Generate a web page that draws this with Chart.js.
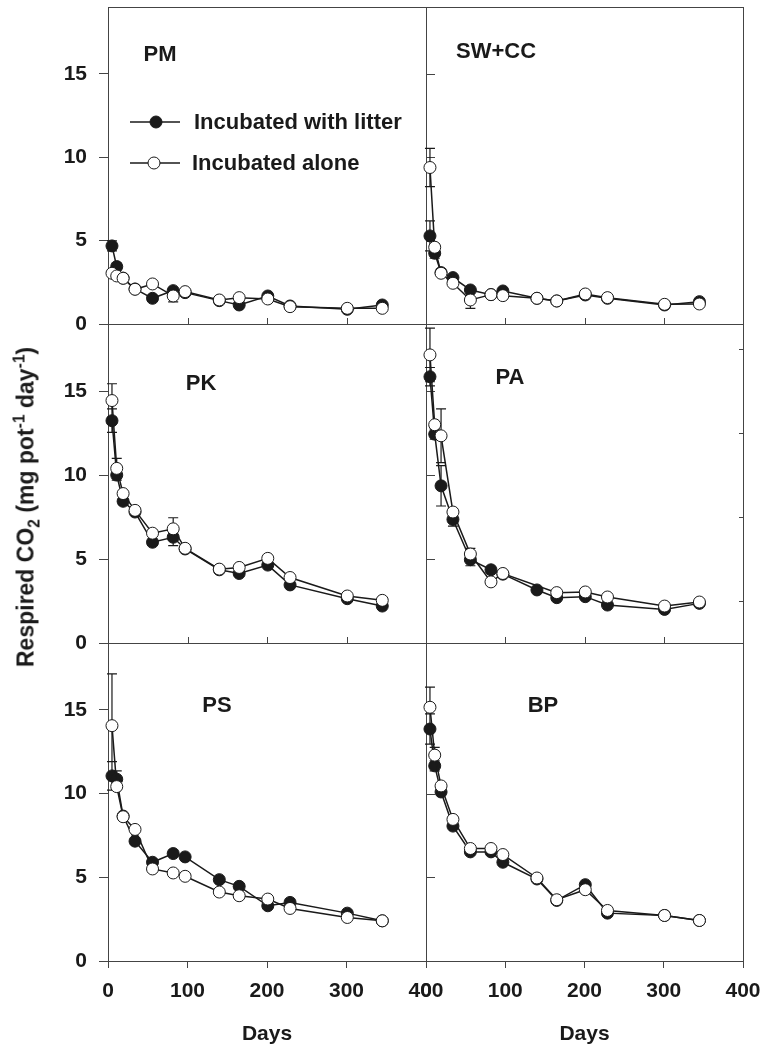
<!DOCTYPE html>
<html>
<head>
<meta charset="utf-8">
<script src="https://cdn.jsdelivr.net/npm/chart.js@4.4.0/dist/chart.umd.min.js"></script>
<style>
  body { margin: 0; background: #fff; }
  #page { position: relative; width: 773px; height: 1047px; overflow: hidden; font-family: 'Liberation Sans', Arial, sans-serif; }
  canvas { position: absolute; }
  #ylabel {
    position: absolute; left: 26px; top: 507px;
    transform: translate(-50%, -50%) rotate(-90deg);
    white-space: nowrap; font-weight: bold; font-size: 23px; color: #1a1a1a; line-height: 1;
  }
  #ylabel sub, #ylabel sup { font-size: 0.68em; line-height: 0; }
</style>
</head>
<body>
<div id="page">
  <canvas id="pm"></canvas>
  <canvas id="pk"></canvas>
  <canvas id="ps"></canvas>
  <canvas id="sw"></canvas>
  <canvas id="pa"></canvas>
  <canvas id="bp"></canvas>
  <div id="ylabel">Respired CO<sub>2</sub> (mg pot<sup>-1</sup> day<sup>-1</sup>)</div>
</div>
<script>
// sampling days (shared by all panels)
const days = [5, 11, 19, 34, 56, 82, 97, 140, 165, 201, 229, 301, 345];

// PM
const pmLitter = [4.68, 3.44, 2.75, 2.10, 1.54, 2.00, 1.88, 1.40, 1.14, 1.68, 1.08, 0.88, 1.14];
const pmAlone = [3.04, 2.88, 2.74, 2.08, 2.40, 1.68, 1.94, 1.44, 1.58, 1.50, 1.04, 0.94, 0.94];
const pmLitterErr = [0.3, 0.2, 0, 0, 0.15, 0.15, 0, 0, 0, 0.1, 0, 0, 0.1];
const pmAloneErr = [0.1, 0, 0, 0, 0, 0.35, 0, 0, 0, 0, 0, 0, 0];

// SW+CC
const swLitter = [5.28, 4.24, 3.08, 2.78, 2.04, 1.76, 1.98, 1.54, 1.38, 1.74, 1.54, 1.14, 1.34];
const swAlone = [9.38, 4.60, 3.04, 2.44, 1.44, 1.76, 1.70, 1.54, 1.38, 1.80, 1.58, 1.18, 1.20];
const swLitterErr = [0.9, 0.3, 0, 0.1, 0, 0, 0, 0, 0, 0, 0, 0, 0];
const swAloneErr = [1.15, 0.2, 0, 0, 0.5, 0, 0, 0, 0, 0, 0, 0, 0];

// PK
const pkLitter = [13.24, 10.0, 8.44, 7.8, 6.0, 6.3, 5.6, 4.36, 4.14, 4.64, 3.46, 2.64, 2.2];
const pkAlone = [14.44, 10.4, 8.9, 7.9, 6.54, 6.8, 5.64, 4.4, 4.5, 5.04, 3.9, 2.8, 2.54];
const pkLitterErr = [0.7, 0.3, 0.2, 0, 0, 0.5, 0, 0, 0, 0, 0, 0, 0.1];
const pkAloneErr = [1.0, 0.6, 0, 0, 0, 0.66, 0, 0, 0, 0, 0, 0, 0];

// PA
const paLitter = [15.86, 12.44, 9.36, 7.36, 4.96, 4.36, 4.10, 3.16, 2.70, 2.76, 2.26, 2.00, 2.36];
const paAlone = [17.16, 13.0, 12.34, 7.8, 5.3, 3.64, 4.14, null, 3.0, 3.04, 2.74, 2.2, 2.44];
const paLitterErr = [0.55, 0.3, 1.2, 0.4, 0.36, 0, 0, 0, 0, 0, 0, 0, 0];
const paAloneErr = [1.6, 0, 1.6, 0.2, 0.34, 0, 0, 0, 0, 0, 0, 0, 0];

// PS
const psLitter = [11.06, 10.86, 8.66, 7.16, 5.9, 6.42, 6.22, 4.86, 4.46, 3.3, 3.5, 2.86, 2.4];
const psAlone = [14.06, 10.42, 8.62, 7.86, 5.5, 5.26, 5.06, 4.12, 3.9, 3.7, 3.14, 2.6, 2.4];
const psLitterErr = [0.85, 0.5, 0.15, 0.15, 0, 0, 0, 0, 0.15, 0.15, 0, 0, 0];
const psAloneErr = [3.1, 0, 0, 0, 0, 0, 0, 0, 0, 0, 0, 0, 0];

// BP
const bpLitter = [13.86, 11.66, 10.1, 8.06, 6.52, 6.52, 5.9, 4.9, 3.62, 4.56, 2.86, 2.72, 2.42];
const bpAlone = [15.16, 12.3, 10.46, 8.46, 6.72, 6.72, 6.36, 4.96, 3.66, 4.26, 3.02, 2.72, 2.42];
const bpLitterErr = [0.9, 0.3, 0.15, 0, 0, 0, 0, 0, 0, 0, 0, 0, 0];
const bpAloneErr = [1.2, 0.46, 0, 0, 0, 0, 0, 0, 0, 0, 0, 0, 0];

const yTicks = [0, 5, 10, 15];
const xTicks = [0, 100, 200, 300, 400];
const innerXTicks = [100, 200, 300];
const paRightTicks = [2.5, 7.5, 12.5, 17.5];
const legendLabels = ['Incubated with litter', 'Incubated alone'];

const FONT = "'Liberation Sans', Arial, sans-serif";
const INK = '#1a1a1a';
const AXIS = '#444';

const cols = {
  left: { x: 0, w: 460, axisW: 108, padR: 34 },
  right: { x: 380, w: 393, axisW: 46, padR: 30 },
};
const rows = [
  { top: 7, bottom: 324 },
  { top: 324, bottom: 643 },
  { top: 643, bottom: 961 },
];

const panels = [
  { id: 'pm', name: 'PM', col: 'left', row: 0, litter: pmLitter, alone: pmAlone, litterErr: pmLitterErr, aloneErr: pmAloneErr, lx: 52, ly: 48, legend: true },
  { id: 'pk', name: 'PK', col: 'left', row: 1, litter: pkLitter, alone: pkAlone, litterErr: pkLitterErr, aloneErr: pkAloneErr, lx: 93, ly: 60 },
  { id: 'ps', name: 'PS', col: 'left', row: 2, litter: psLitter, alone: psAlone, litterErr: psLitterErr, aloneErr: psAloneErr, lx: 109, ly: 63 },
  { id: 'sw', name: 'SW+CC', col: 'right', row: 0, litter: swLitter, alone: swAlone, litterErr: swLitterErr, aloneErr: swAloneErr, lx: 70, ly: 45 },
  { id: 'pa', name: 'PA', col: 'right', row: 1, litter: paLitter, alone: paAlone, litterErr: paLitterErr, aloneErr: paAloneErr, lx: 84, ly: 54, rightTicks: paRightTicks },
  { id: 'bp', name: 'BP', col: 'right', row: 2, litter: bpLitter, alone: bpAlone, litterErr: bpLitterErr, aloneErr: bpAloneErr, lx: 117, ly: 63 },
];

function drawMarker(ctx, x, y, filled) {
  ctx.beginPath();
  ctx.arc(x, y, 6, 0, Math.PI * 2);
  ctx.fillStyle = filled ? INK : '#fff';
  ctx.fill();
  ctx.lineWidth = 1;
  ctx.strokeStyle = INK;
  ctx.stroke();
}

function panelPlugin(p) {
  return {
    id: 'panel',
    beforeDatasetsDraw(chart) {
      const { ctx, chartArea: a, scales: { x, y } } = chart;
      ctx.save();
      ctx.strokeStyle = AXIS;
      ctx.lineWidth = 1;
      ctx.strokeRect(a.left + 0.5, a.top + 0.5, a.width, a.height);
      ctx.beginPath();
      if (p.row < 2) {
        innerXTicks.forEach(v => {
          const px = Math.round(x.getPixelForValue(v)) + 0.5;
          ctx.moveTo(px, a.bottom);
          ctx.lineTo(px, a.bottom - 6);
        });
      }
      if (p.col === 'right') {
        yTicks.slice(1).forEach(v => {
          const py = Math.round(y.getPixelForValue(v)) + 0.5;
          ctx.moveTo(a.left, py);
          ctx.lineTo(a.left + 9, py);
        });
      }
      if (p.rightTicks) {
        p.rightTicks.forEach(v => {
          const py = Math.round(y.getPixelForValue(v)) + 0.5;
          ctx.moveTo(a.right, py);
          ctx.lineTo(a.right - 4, py);
        });
      }
      ctx.stroke();

      // error bars
      ctx.strokeStyle = INK;
      ctx.lineWidth = 1.2;
      ctx.beginPath();
      chart.data.datasets.forEach((ds, i) => {
        const meta = chart.getDatasetMeta(i);
        ds.errors.forEach((e, j) => {
          const v = ds.data[j].y;
          if (!e || v == null) return;
          const px = meta.data[j].x;
          const top = y.getPixelForValue(v + e);
          const bot = y.getPixelForValue(Math.max(v - e, 0));
          ctx.moveTo(px, top); ctx.lineTo(px, bot);
          ctx.moveTo(px - 5, top); ctx.lineTo(px + 5, top);
          ctx.moveTo(px - 5, bot); ctx.lineTo(px + 5, bot);
        });
      });
      ctx.stroke();
      ctx.restore();
    },
    afterDatasetsDraw(chart) {
      const { ctx, chartArea: a } = chart;
      ctx.save();
      ctx.fillStyle = INK;
      ctx.font = 'bold 22px ' + FONT;
      ctx.textAlign = 'center';
      ctx.textBaseline = 'middle';
      ctx.fillText(p.name, a.left + p.lx, a.top + p.ly);
      if (p.legend) {
        [[115, true], [156, false]].forEach(([dy, filled], k) => {
          const ly = a.top + dy;
          ctx.beginPath();
          ctx.strokeStyle = INK;
          ctx.lineWidth = 1.5;
          ctx.moveTo(a.left + 22, ly);
          ctx.lineTo(a.left + 72, ly);
          ctx.stroke();
          drawMarker(ctx, a.left + 48 - k * 2, ly, filled);
          ctx.fillStyle = INK;
          ctx.textAlign = 'left';
          ctx.fillText(legendLabels[k], a.left + 86 - k * 2, ly + 1);
        });
      }
      ctx.restore();
    },
  };
}

function series(vals) {
  return days.map((d, i) => ({ x: d, y: vals[i] }));
}

panels.forEach(p => {
  const c = cols[p.col];
  const r = rows[p.row];
  const bottomRow = p.row === 2;
  const canvasTop = r.top - 7;
  const axisH = bottomRow ? 1047 - r.bottom : 10;
  const canvasH = r.bottom - canvasTop + axisH;
  const el = document.getElementById(p.id);
  el.width = c.w;
  el.height = canvasH;
  el.style.left = c.x + 'px';
  el.style.top = canvasTop + 'px';

  const lineStyle = {
    borderColor: INK,
    borderWidth: 1.5,
    pointRadius: 6,
    pointHoverRadius: 6,
    pointBorderColor: INK,
    pointBorderWidth: 1,
    tension: 0,
    spanGaps: true,
    clip: false,
  };

  new Chart(el.getContext('2d'), {
    type: 'line',
    data: {
      datasets: [
        { ...lineStyle, label: legendLabels[0], data: series(p.litter), errors: p.litterErr, pointBackgroundColor: INK, order: 1 },
        { ...lineStyle, label: legendLabels[1], data: series(p.alone), errors: p.aloneErr, pointBackgroundColor: '#fff', order: 0 },
      ],
    },
    options: {
      responsive: false,
      devicePixelRatio: 1,
      animation: false,
      layout: { padding: { top: 7, right: c.padR, left: 0, bottom: 0 } },
      plugins: { legend: { display: false }, tooltip: { enabled: false } },
      scales: {
        x: {
          type: 'linear',
          min: 0,
          max: 400,
          afterBuildTicks: s => { s.ticks = xTicks.map(v => ({ value: v })); },
          afterFit: s => { s.height = axisH; },
          border: { display: false },
          grid: bottomRow
            ? { drawOnChartArea: false, drawTicks: true, tickLength: 7, color: AXIS }
            : { display: false },
          ticks: {
            display: bottomRow,
            font: { family: FONT, size: 21, weight: 'bold' },
            color: INK,
            padding: 11,
            maxRotation: 0,
            autoSkip: false,
          },
          title: {
            display: bottomRow,
            text: 'Days',
            font: { family: FONT, size: 21, weight: 'bold' },
            color: INK,
            padding: { top: 0, bottom: 0 },
          },
        },
        y: {
          type: 'linear',
          min: 0,
          max: 19,
          afterBuildTicks: s => { s.ticks = yTicks.map(v => ({ value: v })); },
          afterFit: s => {
            s.width = c.axisW;
            s.paddingTop = 0;
            s.paddingBottom = 0;
          },
          border: { display: false },
          grid: p.col === 'left'
            ? { drawOnChartArea: false, drawTicks: true, tickLength: 9, color: AXIS }
            : { display: false },
          ticks: {
            display: p.col === 'left',
            font: { family: FONT, size: 21, weight: 'bold' },
            color: INK,
            padding: 12,
          },
        },
      },
    },
    plugins: [panelPlugin(p)],
  });
});
</script>
</body>
</html>
